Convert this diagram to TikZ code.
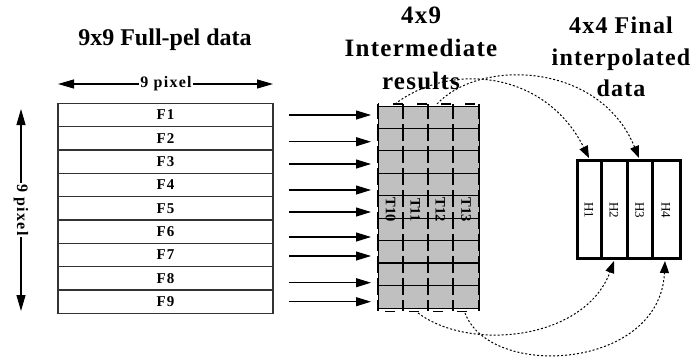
\documentclass[tikz,border=0pt]{standalone}
\usepackage{fontspec}
\setmainfont{Liberation Serif}
\newfontfamily\titlefont[LetterSpace=5]{Liberation Serif}
\newfontfamily\labelfont[LetterSpace=8]{Liberation Serif}
\usetikzlibrary{arrows.meta}
\definecolor{cellgray}{HTML}{C0C0C0}
\tikzset{
  rowbox/.style={draw=black!80, line width=1.2pt, minimum width=215pt, minimum height=23.3pt,
    inner sep=0pt, font=\labelfont\fontsize{15}{15}\selectfont\bfseries},
  feed/.style={line width=1.1pt, -{Triangle[length=15pt,width=9pt]}},
  span/.style={line width=1.1pt, {Triangle[length=16pt,width=9pt]}-{Triangle[length=16pt,width=9pt]}},
  spanlabel/.style={fill=white, inner sep=1pt, font=\labelfont\fontsize{16}{16}\selectfont\bfseries},
  title/.style={font=\fontsize{24}{33}\selectfont\bfseries, align=center},
  mtitle/.style={font=\titlefont\fontsize{25}{33}\selectfont\bfseries, align=center},
  rtitle/.style={font=\titlefont\fontsize{24}{31.5}\selectfont\bfseries, align=center},
  tlabel/.style={rotate=-90, font=\fontsize{14.5}{14.5}\selectfont\bfseries, inner sep=0pt},
  hlabel/.style={rotate=-90, font=\fontsize{13}{13}\selectfont, inner sep=0pt},
  coldash/.style={line width=1.4pt, dash pattern=on 17pt off 5pt, dash phase=2pt},
  capdash/.style={line width=1.3pt, dash pattern=on 10pt off 14pt},
  route/.style={line width=1pt, dash pattern=on 2pt off 2pt, -{Triangle[length=12pt,width=9pt]}}
}
\begin{document}
\begin{tikzpicture}[x=1pt, y=-1pt]
\useasboundingbox (0,0) rectangle (697,362);

% titles
\node[title] (t1) at (165,40) {9x9 Full-pel data};
\node[mtitle] (t2) at (421,48) {4x9\\Intermediate\\results};
\node[rtitle] (t3) at (621,57) {4x4 Final\\interpolated\\data};

% span arrows
\coordinate (hl) at (58,84);
\coordinate (hr) at (273,84);
\draw[span] (hl) -- (hr);
\node[spanlabel] (hp) at (166,84) {9 pixel};
\coordinate (vt) at (21,109);
\coordinate (vb) at (21,311);
\draw[span] (vt) -- (vb);
\node[spanlabel, rotate=-90] (vp) at (21,210) {9 pixel};

% full-pel rows
\foreach \i in {1,...,9} {
  \node[rowbox] (f\i) at (165.5, {103.3 + 23.33*(\i-0.5)}) {F\i};
}

% intermediate grid
\fill[cellgray] (378,106) rectangle (479,308);
\foreach \k in {1,...,8} {
  \draw[line width=1.2pt] (378,{106+22.44*\k}) -- (479,{106+22.44*\k});
}
\draw[line width=1pt] (378,106) rectangle (479,308);
\node[inner sep=0pt, minimum width=101pt, minimum height=202pt] (grid) at (428.5,207) {};
\foreach \x in {378,403,428,453,479} {
  \draw[coldash] (\x,104) -- (\x,311);
}
\draw[capdash, dash phase=-15pt] (378,104) -- (479,104);
\draw[capdash, dash phase=-7pt] (378,311.5) -- (479,311.5);

% column labels
\node[tlabel] (c0) at (390.5,210) {T10};
\node[tlabel] (c1) at (415.5,210) {T11};
\node[tlabel] (c2) at (440.5,210) {T12};
\node[tlabel] (c3) at (466,210) {T13};

% feed arrows into the grid
\foreach \i/\y in {1/115,2/141.7,3/164,4/190,5/212,6/237,7/256,8/282.7,9/301.7} {
  \coordinate (a\i) at (289,\y);
  \coordinate (b\i) at (371,\y);
  \draw[feed] (a\i) -- (b\i);
}

% final interpolated block
\node[draw, line width=3pt, minimum width=103pt, minimum height=98pt, inner sep=0pt] (hbox) at (628.5,209) {};
\foreach \x in {601.5,627,652} {
  \draw[line width=3pt] (\x,160) -- (\x,258);
}
\node[hlabel] (h1) at (589,210) {H1};
\node[hlabel] (h2) at (614,210) {H2};
\node[hlabel] (h3) at (639.5,210) {H3};
\node[hlabel] (h4) at (666,210) {H4};

% data movement
\coordinate (s0) at (395,104);
\coordinate (s2) at (437,104);
\coordinate (e1) at (589,158);
\coordinate (e3) at (639,158);
\draw[route] (s0) .. controls (450,62) and (545,70) .. (e1);
\draw[route] (s2) .. controls (480,58) and (600,62) .. (e3);
\coordinate (s1) at (418,313);
\coordinate (s3) at (465,313);
\coordinate (e2) at (614,261);
\coordinate (e4) at (665,261);
\draw[route] (s1) .. controls (470,352) and (585,340) .. (e2);
\draw[route] (s3) .. controls (490,380) and (660,370) .. (e4);
\end{tikzpicture}
\end{document}
